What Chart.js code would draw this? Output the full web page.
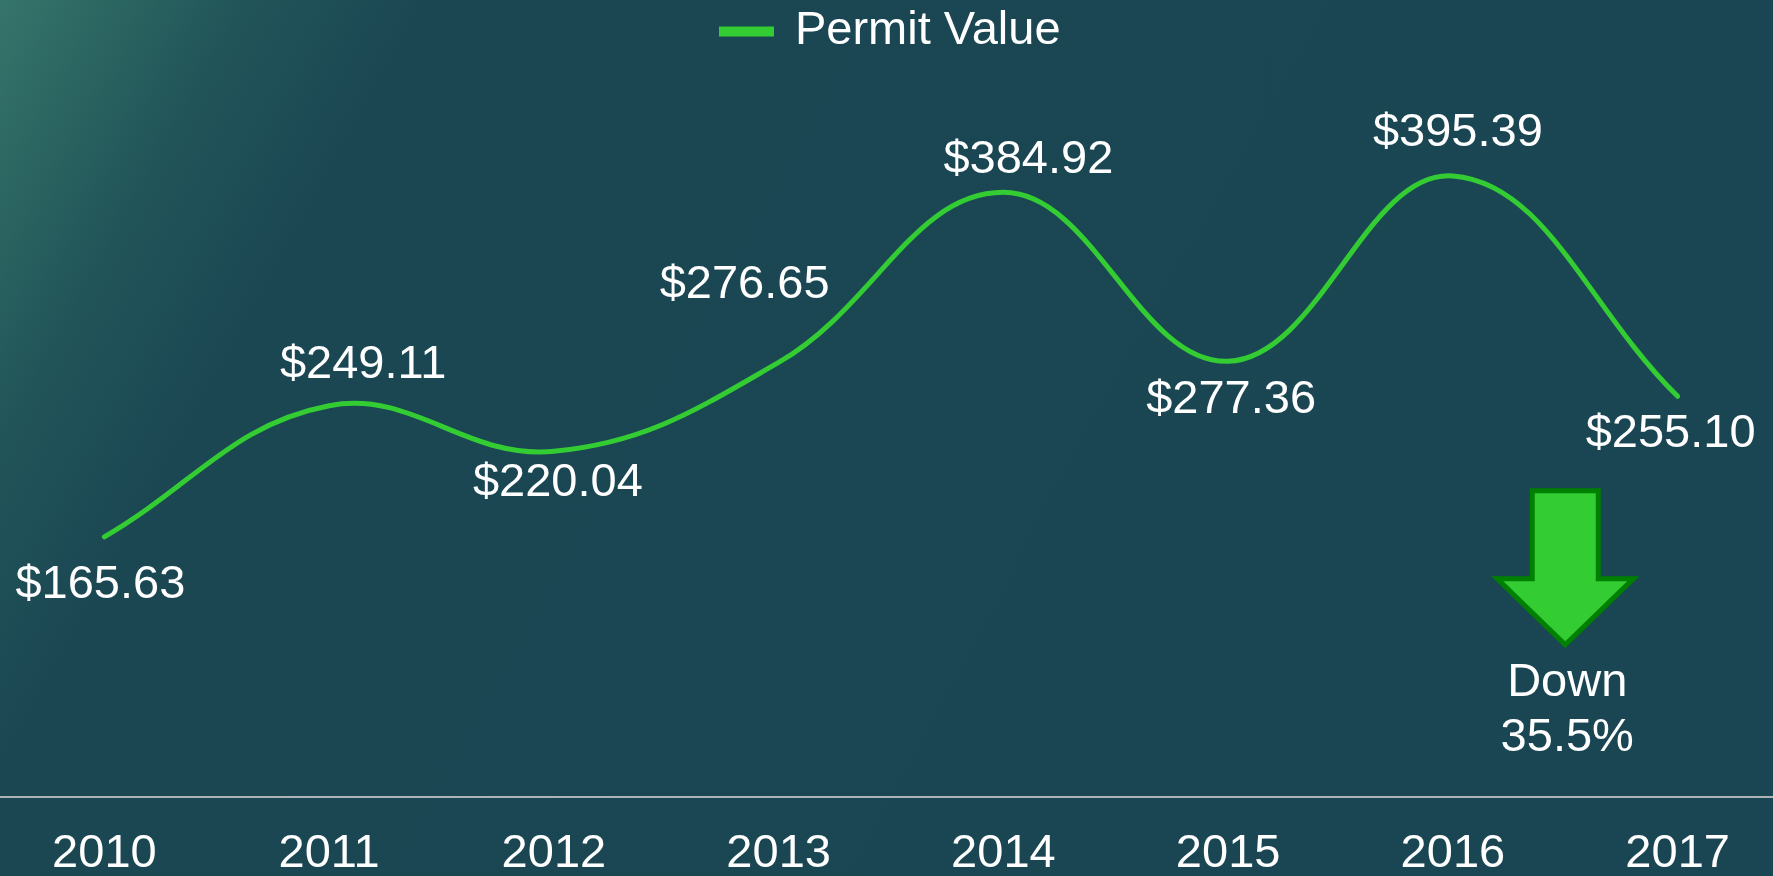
<!DOCTYPE html>
<html>
<head>
<meta charset="utf-8">
<script src="https://cdn.jsdelivr.net/npm/chart.js@4.4.1/dist/chart.umd.min.js"></script>
<style>
  html, body {
    margin: 0;
    padding: 0;
    width: 1773px;
    height: 876px;
    overflow: hidden;
    background: linear-gradient(119deg, #36756b 0%, #2a6360 6%, #215459 11%, #1b4753 19%, #1a4653 100%);
  }
  #wrap {
    position: absolute;
    left: -8px;
    top: 0;
    width: 1798px;
    height: 876px;
  }
</style>
</head>
<body>
<div id="wrap"><canvas id="permit-canvas"></canvas></div>
<script>
const years = ['2010', '2011', '2012', '2013', '2014', '2015', '2016', '2017']
const permitValue = [165.63, 249.11, 220.04, 276.65, 384.92, 277.36, 395.39, 255.10]
const arrowText = ['Down', '35.5%']

// where each value label sits relative to its point (px)
const labelOffsets = [
  [-4, 48], [34, -41], [4, 32], [-34, -77],
  [25, -32], [3, 39], [5, -43], [-7, 38],
]

const FONT = 'Arial, "Liberation Sans", sans-serif'
const FONT_SIZE = 47
const GREEN = '#33cc33'

const valueLabels = {
  id: 'valueLabels',
  afterDatasetsDraw(chart) {
    const ctx = chart.ctx
    const meta = chart.getDatasetMeta(0)
    ctx.save()
    ctx.font = FONT_SIZE + 'px ' + FONT
    ctx.fillStyle = '#ffffff'
    ctx.textAlign = 'center'
    ctx.textBaseline = 'middle'
    meta.data.forEach((pt, i) => {
      const off = labelOffsets[i]
      ctx.fillText('$' + permitValue[i].toFixed(2), pt.x + off[0], pt.y + off[1])
    })
    ctx.restore()
  },
}

const downArrow = {
  id: 'downArrow',
  afterDatasetsDraw(chart) {
    const ctx = chart.ctx
    const cx = chart.scales.x.getPixelForValue(6.5)
    const top = chart.scales.y.getPixelForValue(195)
    const shaftW = 66, headW = 136, shaftH = 88, headH = 66
    ctx.save()
    ctx.beginPath()
    ctx.moveTo(cx - shaftW / 2, top)
    ctx.lineTo(cx + shaftW / 2, top)
    ctx.lineTo(cx + shaftW / 2, top + shaftH)
    ctx.lineTo(cx + headW / 2, top + shaftH)
    ctx.lineTo(cx, top + shaftH + headH)
    ctx.lineTo(cx - headW / 2, top + shaftH)
    ctx.lineTo(cx - shaftW / 2, top + shaftH)
    ctx.closePath()
    ctx.fillStyle = GREEN
    ctx.fill()
    ctx.lineWidth = 5
    ctx.strokeStyle = '#008000'
    ctx.stroke()

    ctx.font = FONT_SIZE + 'px ' + FONT
    ctx.fillStyle = '#ffffff'
    ctx.textAlign = 'center'
    ctx.textBaseline = 'middle'
    const tip = top + shaftH + headH
    arrowText.forEach((t, i) => {
      ctx.fillText(t, cx + 2, tip + 38 + i * 55)
    })
    ctx.restore()
  },
}

// permit chart
const permitChart = new Chart(document.getElementById('permit-canvas'), {
  type: 'line',
  data: {
    labels: years,
    datasets: [
      {
        label: 'Permit Value',
        data: permitValue,
        borderColor: GREEN,
        backgroundColor: GREEN,
        borderWidth: 5,
        borderCapStyle: 'round',
        tension: 0.4,
        pointRadius: 0,
        fill: false,
      },
    ],
  },
  options: {
    responsive: true,
    maintainAspectRatio: false,
    animation: false,
    layout: { padding: 0 },
    plugins: {
      legend: {
        display: true,
        position: 'top',
        labels: {
          color: '#ffffff',
          font: { family: FONT, size: FONT_SIZE },
          boxWidth: 50,
          boxHeight: 5,
          padding: 8,
        },
      },
      tooltip: { enabled: false },
    },
    scales: {
      x: {
        offset: true,
        grid: { display: false, drawTicks: false },
        border: { display: true, color: '#aeb4b6', width: 2 },
        ticks: {
          color: '#ffffff',
          font: { family: FONT, size: FONT_SIZE },
          padding: 29,
          maxRotation: 0,
        },
        afterFit(scale) {
          scale.height = 79
        },
      },
      y: {
        display: false,
        min: 0,
        max: 466,
      },
    },
  },
  plugins: [valueLabels, downArrow],
})
</script>
</body>
</html>
